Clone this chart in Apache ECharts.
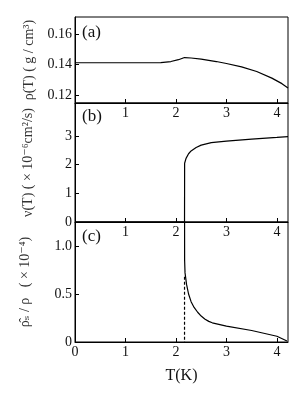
<!DOCTYPE html>
<html><head><meta charset="utf-8">
<script src="https://cdn.jsdelivr.net/npm/echarts@6/dist/echarts.min.js"></script>
<style>html,body{margin:0;padding:0;background:#fff}#c{width:308px;height:400px}</style>
</head><body><div id="c"></div>
<script>
// Panel (a): density rho(T) in g/cm^3
const rhoT   = [0, 0.5, 1.0, 1.5, 1.7, 1.9, 2.05, 2.17, 2.3, 2.5, 2.8, 3.0, 3.3, 3.6, 3.9, 4.1, 4.22];
const rhoVal = [0.1412, 0.1412, 0.1412, 0.1412, 0.1413, 0.1420, 0.1432, 0.1446, 0.1443, 0.1436, 0.1420, 0.1407, 0.1385, 0.1355, 0.1312, 0.1276, 0.1248];
// Panel (b): kinematic viscosity nu(T) in 1e-6 cm^2/s
const nuT    = [0, 2.17, 2.172, 2.2, 2.25, 2.3, 2.4, 2.5, 2.7, 3.0, 3.5, 4.0, 4.22];
const nuVal  = [0, 0, 2.05, 2.22, 2.38, 2.48, 2.6, 2.68, 2.77, 2.82, 2.89, 2.95, 2.98];
// Panel (c): rho_s_hat / rho in 1e-4
const rsT    = [2.17, 2.172, 2.18, 2.21, 2.25, 2.3, 2.36, 2.43, 2.5, 2.57, 2.65, 2.72, 3.0, 3.5, 4.0, 4.2];
const rsVal  = [1.6, 0.85, 0.72, 0.6, 0.5, 0.42, 0.36, 0.31, 0.27, 0.24, 0.215, 0.2, 0.165, 0.12, 0.06, 0.01];
const dashT  = [2.17, 2.17];
const dashV  = [0.68, 0];
// Tick labels
const xTicks  = [0, 1, 2, 3, 4];
const yTicksA = [0.12, 0.14, 0.16];
const yTicksB = [0, 1, 2, 3];
const yTicksC = [0, 0.5, 1.0];

const zip = (a, b) => a.map((v, i) => [v, b[i]]);
const serif = '"Liberation Serif","DejaVu Serif",serif';
const ch = echarts.init(document.getElementById('c'));

const grids = [
  {left: 75, right: 20, top: 17, height: 86},
  {left: 75, right: 20, top: 103, height: 119},
  {left: 75, right: 20, top: 222, height: 120}
].map(g => Object.assign(g, {show: true, borderColor: '#000', borderWidth: 1, containLabel: false}));

function xAx(i, showZero) {
  return {
    type: 'value', gridIndex: i, min: 0, max: 4.22, position: 'bottom',
    axisLine: {lineStyle: {color: '#000', width: 1}},
    axisTick: {inside: true, length: 4, customValues: xTicks, lineStyle: {color: '#000'}},
    axisLabel: {customValues: showZero ? xTicks : xTicks.slice(1), color: '#111', fontFamily: serif, fontSize: 14, margin: 3},
    splitLine: {show: false}
  };
}
function yAx(i, min, max, ticks, fmt, name, gap) {
  return {
    type: 'value', gridIndex: i, min: min, max: max,
    axisLine: {lineStyle: {color: '#000', width: 1}},
    axisTick: {inside: true, length: 4, customValues: ticks, lineStyle: {color: '#000'}},
    axisLabel: {customValues: ticks, formatter: fmt, color: '#111', fontFamily: serif, fontSize: 14, margin: 3},
    splitLine: {show: false},
    name: name, nameLocation: 'middle', nameGap: gap,
    nameTextStyle: {fontFamily: serif, fontSize: 14, color: '#333'}
  };
}

const xA = xAx(0, false), xB = xAx(1, false), xC = xAx(2, true);
xC.name = 'T(K)'; xC.nameLocation = 'middle'; xC.nameGap = 26;
xC.nameTextStyle = {fontFamily: serif, fontSize: 16, color: '#111'};

const lineS = (x, y, data, dashed) => ({
  type: 'line', xAxisIndex: x, yAxisIndex: y, data: data, symbol: 'none', smooth: false,
  clip: true, lineStyle: {color: '#000', width: 1.2, type: dashed ? [3, 2] : 'solid'}, animation: false
});

ch.setOption({
  animation: false,
  grid: grids,
  xAxis: [xA, xB, xC],
  yAxis: [
    yAx(0, 0.115, 0.171, yTicksA, v => v.toFixed(2), 'ρ(T) ( g / cm³)', 37),
    yAx(1, 0, 4.15, yTicksB, v => String(v), 'ν(T) ( × 10⁻⁶cm²/s)', 40),
    yAx(2, 0, 1.25, yTicksC, v => v === 0 ? '0' : v.toFixed(1), 'ρ̂ₛ / ρ   ( × 10⁻⁴)', 43)
  ],
  series: [
    lineS(0, 0, zip(rhoT, rhoVal)),
    lineS(1, 1, zip(nuT, nuVal)),
    lineS(2, 2, zip(rsT, rsVal)),
    lineS(2, 2, zip(dashT, dashV), true)
  ],
  graphic: [
    {type: 'text', left: 82, top: 24, style: {text: '(a)', font: '17px ' + serif, fill: '#111'}},
    {type: 'text', left: 82, top: 108, style: {text: '(b)', font: '17px ' + serif, fill: '#111'}},
    {type: 'text', left: 82, top: 228, style: {text: '(c)', font: '17px ' + serif, fill: '#111'}}
  ]
});
</script></body></html>
